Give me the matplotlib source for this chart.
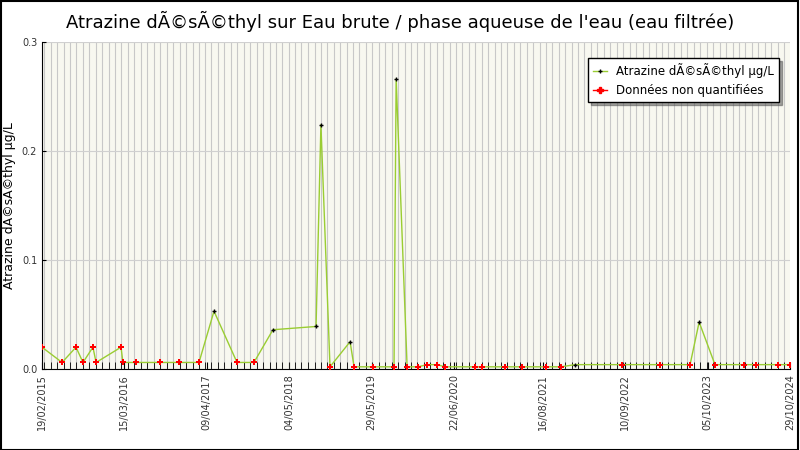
import matplotlib
matplotlib.use("Agg")
import matplotlib.pyplot as plt
import matplotlib.dates as mdates
import pandas as pd

dates = ["2015-02-19", "2015-05-25", "2015-07-30", "2015-09-01", "2015-10-18", "2015-11-02",
         "2016-02-28", "2016-03-08", "2016-05-08", "2016-08-30", "2016-11-28", "2017-03-03",
         "2017-05-13", "2017-08-30", "2017-11-18", "2018-02-16", "2018-09-08", "2018-10-01",
         "2018-11-13", "2019-02-16", "2019-03-07", "2019-06-05", "2019-09-12", "2019-09-22",
         "2019-11-13", "2020-01-04", "2020-02-15", "2020-04-03", "2020-05-10", "2020-09-29",
         "2020-11-02", "2021-02-18", "2021-05-10", "2021-08-31", "2021-11-10", "2022-01-16",
         "2022-08-26", "2023-02-22", "2023-07-14", "2023-08-26", "2023-11-09", "2024-03-26",
         "2024-05-21", "2024-09-02", "2024-10-29"]
values = [0.02, 0.006, 0.02, 0.006, 0.02, 0.006,
          0.02, 0.006, 0.006, 0.006, 0.006, 0.006,
          0.053, 0.006, 0.006, 0.036, 0.039, 0.224,
          0.002, 0.025, 0.002, 0.002, 0.002, 0.266,
          0.002, 0.002, 0.004, 0.004, 0.002, 0.002,
          0.002, 0.002, 0.002, 0.002, 0.002, 0.004,
          0.004, 0.004, 0.004, 0.043, 0.004, 0.004,
          0.004, 0.004, 0.004]
quantified = [False, False, False, False, False, False,
              False, False, False, False, False, False,
              True, False, False, True, True, True,
              False, True, False, False, False, True,
              False, False, False, False, False, False,
              False, False, False, False, False, True,
              False, False, False, True, False, False,
              False, False, False]
tick_dates = ["2015-02-19", "2016-03-15", "2017-04-09", "2018-05-04", "2019-05-29",
              "2020-06-22", "2021-08-16", "2022-09-10", "2023-10-05", "2024-10-29"]

x = pd.to_datetime(dates)
q = pd.Series(quantified)
v = pd.Series(values)

fig = plt.figure(figsize=(8, 4.5), dpi=100)
fig.patches.append(plt.Rectangle((0.001, 0.001), 0.997, 0.997, transform=fig.transFigure,
                                 fill=False, edgecolor="black", linewidth=1.5))
ax = fig.add_axes([0.0525, 0.18, 0.935, 0.727])
ax.set_facecolor("#F8F8F0")

ax.plot(x, values, color="#9ACD32", linewidth=1, zorder=2)
ax.plot(x[q.values], v[q.values], "+", color="black", markersize=3, markeredgewidth=1, zorder=3)
ax.plot(x[~q.values], v[~q.values], "P", color="red", markersize=5, markeredgewidth=0, zorder=3)
# legend handles
ax.plot([], [], "+-", color="#9ACD32", mec="black", markersize=3, lw=1,
        label="Atrazine dÃ©sÃ©thyl µg/L")
ax.plot([], [], "P-", color="red", mec="red", markersize=5, lw=1,
        label="Données non quantifiées")

ax.set_ylim(0, 0.3)
ax.set_xlim(pd.Timestamp(tick_dates[0]), pd.Timestamp(tick_dates[-1]))
ax.set_yticks([0, 0.1, 0.2, 0.3])
ax.set_yticklabels(["0.0", "0.1", "0.2", "0.3"], fontsize=7, color="#333333")
ax.set_xticks(pd.to_datetime(tick_dates))
ax.set_xticklabels([pd.Timestamp(d).strftime("%d/%m/%Y") for d in tick_dates], rotation=90,
                   fontsize=7, color="#333333")
ax.xaxis.set_minor_locator(mdates.MonthLocator())
ax.tick_params(axis="x", which="both", direction="in", length=5, color="black")
ax.tick_params(axis="y", direction="in", length=3)
ax.grid(True, axis="x", which="minor", color="#C8C8C8", linewidth=0.8)
ax.grid(True, axis="y", which="major", color="#D0D0D0", linewidth=0.8)
for s in ["top", "right"]:
    ax.spines[s].set_visible(False)

ax.set_ylabel("Atrazine dÃ©sÃ©thyl µg/L", fontsize=9)
fig.suptitle("Atrazine dÃ©sÃ©thyl sur Eau brute / phase aqueuse de l'eau (eau filtrée)",
             fontsize=13, y=0.975)
leg = ax.legend(loc="upper right", fontsize=8.5, fancybox=False, framealpha=1, shadow=True,
                edgecolor="black", bbox_to_anchor=(0.99, 0.96), borderaxespad=0.3,
                handlelength=1.2)
leg.get_frame().set_linewidth(1)
leg.set_zorder(5)

fig.savefig("out.png", dpi=100)
